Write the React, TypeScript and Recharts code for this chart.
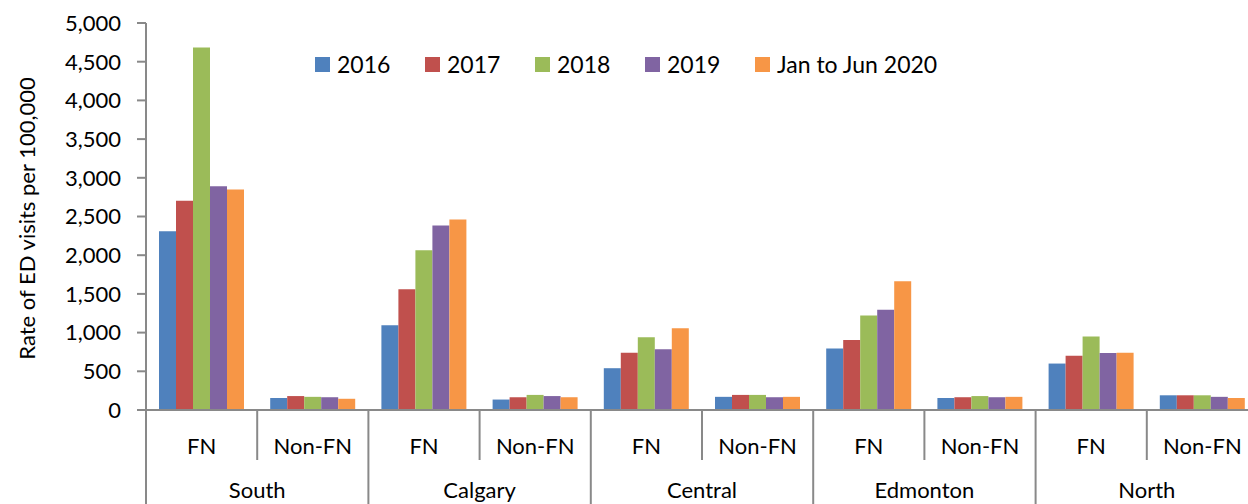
import React from "react";
import { BarChart, Bar, XAxis, YAxis, Legend } from "recharts";

const regions = ["South", "Calgary", "Central", "Edmonton", "North"];
const groups = ["FN", "Non-FN"];
const years = ["2016", "2017", "2018", "2019", "Jan to Jun 2020"];

// one value per category, in order South FN, South Non-FN, Calgary FN, ...
const v2016 = [2310, 155, 1095, 135, 540, 170, 795, 155, 600, 190];
const v2017 = [2705, 180, 1560, 165, 740, 195, 905, 165, 700, 190];
const v2018 = [4685, 170, 2065, 195, 940, 195, 1220, 180, 950, 190];
const v2019 = [2890, 165, 2385, 180, 785, 165, 1295, 165, 735, 170];
const v2020 = [2850, 145, 2460, 165, 1055, 170, 1665, 170, 740, 155];

const yTicks = [0, 500, 1000, 1500, 2000, 2500, 3000, 3500, 4000, 4500, 5000];
const colors = ["#4F81BD", "#C0504D", "#9BBB59", "#8064A2", "#F79646"];
const seriesValues = [v2016, v2017, v2018, v2019, v2020];

const categories = regions.flatMap((r) => groups.map((g) => ({ region: r, group: g })));

const data = categories.map((c, i) => {
  const row: Record<string, string | number> = { cat: `${c.region} ${c.group}` };
  years.forEach((y, s) => {
    row[y] = seriesValues[s][i];
  });
  return row;
});

const FONT = "Lato, 'Open Sans', sans-serif";
const AXIS_COLOR = "#898989";

const CHART_W = 1270;
const CHART_H = 540;
const MARGIN = { top: 23, right: 12, left: 0, bottom: 0 };
const Y_AXIS_W = 146;
const PLOT_H = 387;
const AXIS_Y = MARGIN.top + PLOT_H;
const BAND = (CHART_W - MARGIN.right - MARGIN.left - Y_AXIS_W) / categories.length;

const CategoryTick = (props: any) => {
  const { x, index } = props;
  const c = categories[index];
  if (!c) return null;
  const left = x - BAND / 2;
  const isRegionStart = index % 2 === 0;
  return (
    <g>
      <line
        x1={left}
        x2={left}
        y1={AXIS_Y}
        y2={isRegionStart ? CHART_H : AXIS_Y + 50}
        stroke={AXIS_COLOR}
        strokeWidth={2}
      />
      {index === categories.length - 1 && (
        <line x1={x + BAND / 2} x2={x + BAND / 2} y1={AXIS_Y} y2={CHART_H} stroke={AXIS_COLOR} strokeWidth={2} />
      )}
      <text x={x} y={AXIS_Y + 44} textAnchor="middle" fontSize={22} fontFamily={FONT} fill="#000">
        {c.group}
      </text>
      {isRegionStart && (
        <text x={x + BAND / 2} y={AXIS_Y + 88} textAnchor="middle" fontSize={22} fontFamily={FONT} fill="#000">
          {c.region}
        </text>
      )}
    </g>
  );
};

const renderLegend = (props: any) => {
  const items = props.payload || [];
  return (
    <div style={{ display: "flex", fontFamily: FONT, fontSize: 23, color: "#000", lineHeight: "28px" }}>
      {items.map((p: any, i: number) => (
        <div
          key={p.value}
          style={{ display: "flex", alignItems: "center", width: i < items.length - 1 ? 110 : "auto", whiteSpace: "nowrap" }}
        >
          <span style={{ display: "inline-block", width: 15, height: 15, background: p.color, marginRight: 7 }} />
          <span>{p.value}</span>
        </div>
      ))}
    </div>
  );
};

const YLabel = () => (
  <text
    transform={`translate(26, ${MARGIN.top + PLOT_H / 2 + 2}) rotate(-90)`}
    textAnchor="middle"
    dominantBaseline="central"
    fontSize={22}
    fontFamily={FONT}
    fill="#000"
  >
    Rate of ED visits per 100,000
  </text>
);

export default function App() {
  return (
    <div style={{ position: "absolute", left: 0, top: 0, width: 1248, height: 504, overflow: "hidden", background: "#fff" }}>
      <BarChart width={CHART_W} height={CHART_H} data={data} margin={MARGIN} barCategoryGap={13} barGap={0}>
        <XAxis
          dataKey="cat"
          interval={0}
          height={CHART_H - MARGIN.top - PLOT_H}
          tickLine={false}
          axisLine={{ stroke: AXIS_COLOR, strokeWidth: 2 }}
          tick={<CategoryTick />}
        />
        <YAxis
          width={Y_AXIS_W}
          domain={[0, 5000]}
          ticks={yTicks}
          interval={0}
          tickSize={9}
          tickMargin={16}
          tickFormatter={(v: number) => v.toLocaleString("en-US")}
          tick={{ fill: "#000", fontSize: 22, fontFamily: FONT }}
          tickLine={{ stroke: AXIS_COLOR, strokeWidth: 2 }}
          axisLine={{ stroke: AXIS_COLOR, strokeWidth: 2 }}
          label={{ content: <YLabel /> }}
        />
        <Legend
          layout="horizontal"
          verticalAlign="middle"
          content={renderLegend}
          wrapperStyle={{ top: 50, left: 315, width: 800 }}
        />
        {years.map((y, s) => (
          <Bar key={y} dataKey={y} name={y} fill={colors[s]} isAnimationActive={false} />
        ))}
      </BarChart>
    </div>
  );
}
